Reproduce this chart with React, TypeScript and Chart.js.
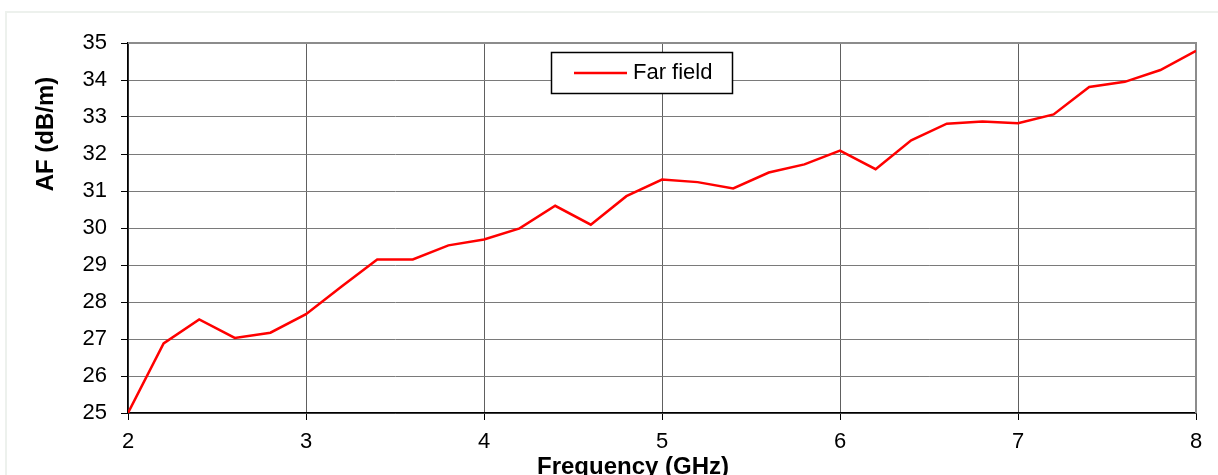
import React, { useEffect, useRef } from 'react';
import { Chart, registerables } from 'chart.js';

Chart.register(...registerables);

const frequencies = [2, 2.2, 2.4, 2.6, 2.8, 3, 3.2, 3.4, 3.6, 3.8, 4, 4.2, 4.4, 4.6, 4.8, 5, 5.2, 5.4, 5.6, 5.8, 6, 6.2, 6.4, 6.6, 6.8, 7, 7.2, 7.4, 7.6, 7.8, 8];
const farField = [25.0, 26.88, 27.53, 27.03, 27.17, 27.67, 28.42, 29.15, 29.15, 29.53, 29.69, 29.99, 30.6, 30.09, 30.86, 31.31, 31.24, 31.07, 31.5, 31.72, 32.09, 31.59, 32.37, 32.82, 32.88, 32.83, 33.07, 33.81, 33.95, 34.27, 34.79];
const xTicks = [2, 3, 4, 5, 6, 7, 8];
const yTicks = [25, 26, 27, 28, 29, 30, 31, 32, 33, 34, 35];
const seriesLabel = 'Far field';
const xTitle = 'Frequency (GHz)';
const yTitle = 'AF (dB/m)';

const FONT = '"Liberation Sans", Arial, sans-serif';

const decorPlugin = {
  id: 'decor',
  beforeDatasetsDraw(chart: any) {
    const { ctx, chartArea } = chart;
    ctx.save();
    ctx.strokeStyle = '#8c8c8c';
    ctx.lineWidth = 2;
    ctx.beginPath();
    ctx.moveTo(chartArea.left, chartArea.top);
    ctx.lineTo(chartArea.right, chartArea.top);
    ctx.lineTo(chartArea.right, chartArea.bottom);
    ctx.stroke();
    ctx.restore();
  },
  afterDraw(chart: any) {
    const { ctx } = chart;
    ctx.save();
    // axis titles
    ctx.fillStyle = '#000';
    ctx.font = `bold 24px ${FONT}`;
    ctx.textAlign = 'center';
    ctx.textBaseline = 'alphabetic';
    ctx.fillText(xTitle, 633, 474);
    ctx.save();
    ctx.translate(53, 134);
    ctx.rotate(-Math.PI / 2);
    ctx.fillText(yTitle, 0, 0);
    ctx.restore();

    // legend box
    const ds = chart.data.datasets[0];
    ctx.fillStyle = '#fff';
    ctx.fillRect(551, 52, 182, 42);
    ctx.strokeStyle = '#000';
    ctx.lineWidth = 1.5;
    ctx.strokeRect(551.5, 52.5, 181, 41);
    ctx.strokeStyle = ds.borderColor;
    ctx.lineWidth = 2.5;
    ctx.beginPath();
    ctx.moveTo(574, 73);
    ctx.lineTo(627, 73);
    ctx.stroke();
    ctx.fillStyle = '#000';
    ctx.font = `22px ${FONT}`;
    ctx.textAlign = 'left';
    ctx.textBaseline = 'middle';
    ctx.fillText(ds.label, 633, 73);
    ctx.restore();
  },
};

export default function App() {
  const canvasRef = useRef<HTMLCanvasElement>(null);

  useEffect(() => {
    const canvas = canvasRef.current;
    if (!canvas) return;
    const chart = new Chart(canvas, {
      type: 'line',
      data: {
        datasets: [
          {
            label: seriesLabel,
            data: frequencies.map((f, i) => ({ x: f, y: farField[i] })),
            borderColor: '#ff0000',
            backgroundColor: '#ff0000',
            borderWidth: 2.5,
            pointRadius: 0,
            tension: 0,
            fill: false,
          },
        ],
      },
      options: {
        animation: false,
        responsive: false,
        devicePixelRatio: 1,
        layout: { padding: { left: 0, top: 43, right: 22, bottom: 0 } },
        plugins: {
          legend: { display: false },
          tooltip: { enabled: false },
        },
        scales: {
          x: {
            type: 'linear',
            min: 2,
            max: 8,
            afterBuildTicks: (s: any) => {
              s.ticks = xTicks.map((v) => ({ value: v }));
            },
            afterFit: (s: any) => {
              s.height = 62;
            },
            grid: {
              color: '#606060',
              lineWidth: 1,
              tickLength: 7,
              tickColor: '#000',
            },
            border: { color: '#000', width: 1.5 },
            ticks: {
              color: '#000',
              font: { family: FONT, size: 22 },
              padding: 9,
              maxRotation: 0,
              autoSkip: false,
            },
          },
          y: {
            type: 'linear',
            min: 25,
            max: 35,
            afterBuildTicks: (s: any) => {
              s.ticks = yTicks.map((v) => ({ value: v }));
            },
            afterFit: (s: any) => {
              s.width = 128;
            },
            grid: {
              color: '#7a7a7a',
              lineWidth: 1,
              tickLength: 7,
              tickColor: '#000',
            },
            border: { color: '#000', width: 1.5 },
            ticks: {
              color: '#000',
              font: { family: FONT, size: 22 },
              padding: 14,
              autoSkip: false,
            },
          },
        },
      },
      plugins: [decorPlugin],
    });
    return () => chart.destroy();
  }, []);

  return (
    <div
      style={{
        position: 'fixed',
        left: 0,
        top: 0,
        width: 1218,
        height: 475,
        overflow: 'hidden',
        background: '#fff',
      }}
    >
      <div
        style={{
          position: 'absolute',
          left: 5,
          top: 11,
          width: 1400,
          height: 700,
          border: '2px solid #edf1ed',
          boxSizing: 'border-box',
          pointerEvents: 'none',
        }}
      />
      <canvas
        ref={canvasRef}
        width={1218}
        height={475}
        style={{ position: 'absolute', left: 0, top: 0, width: 1218, height: 475 }}
      />
    </div>
  );
}
